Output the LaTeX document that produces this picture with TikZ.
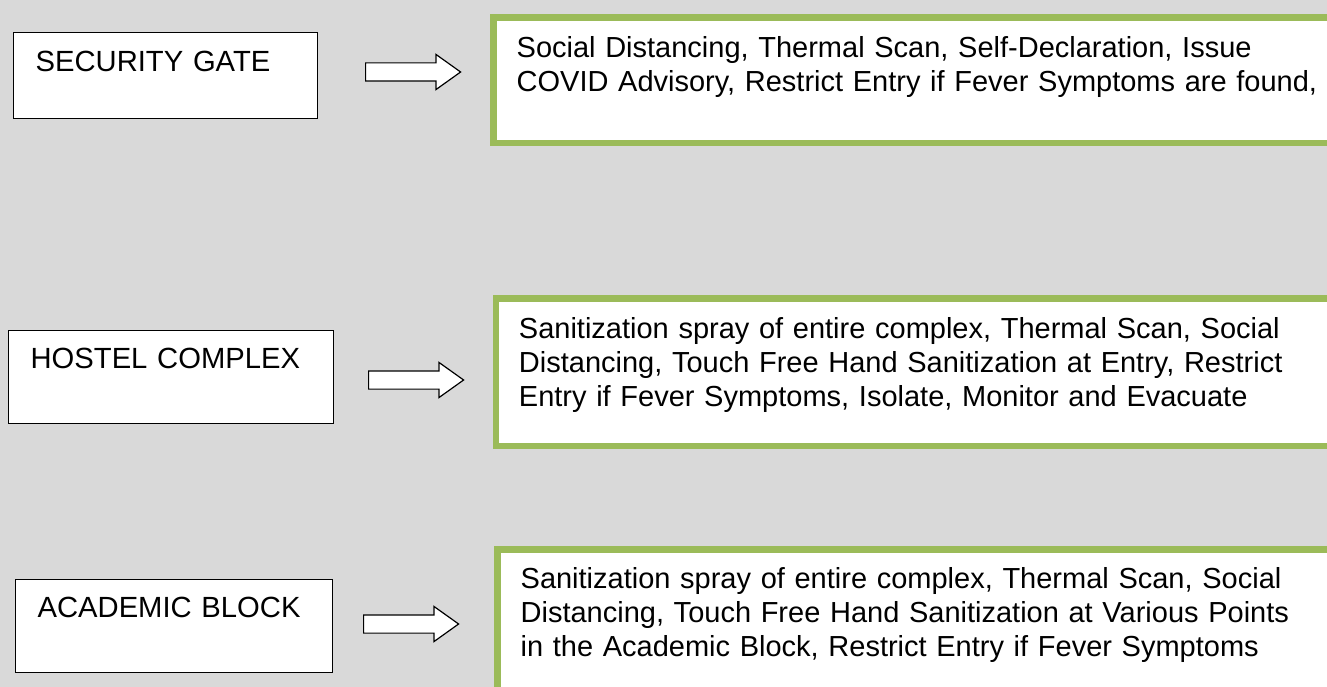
\documentclass[tikz,border=0pt]{standalone}
\usepackage{fontspec}
\setmainfont{Liberation Sans}
\usetikzlibrary{shapes.arrows,positioning}

\definecolor{boxgreen}{HTML}{9BBB59}
\definecolor{pagegray}{HTML}{D9D9D9}

\begin{document}
\begin{tikzpicture}[x=1pt,y=-1pt,
        placebox/.style={
        draw=black,
        fill=white,
        line width=1.3pt,
        anchor=north west,
        inner xsep=22pt,
        inner ysep=0pt,
        align=left,
        text height=38pt,
        text depth=55pt,
        font=\fontsize{29.2}{34}\selectfont},
    actionbox/.style={
        draw=boxgreen,
        fill=white,
        line width=6.7pt,
        anchor=north west,
        inner xsep=23pt,
        inner ysep=0pt,
        text width=810pt,
        align=left,
        text height=40pt,
        font=\fontsize{29}{34}\selectfont},
    blockarrow/.style={
        single arrow,
        draw=black,
        fill=white,
        line width=1.2pt,
        anchor=tail,
        inner xsep=0pt,
        inner ysep=8.5pt,
        minimum height=95pt,
        single arrow head extend=8.5pt,
        single arrow tip angle=71}
    ]
    \fill[pagegray] (0,0) rectangle (1327,687);
    \useasboundingbox (0,0) rectangle (1327,687);
    \clip (0,0) rectangle (1327,687);

    % places on the left
    \node[placebox,text width=260pt,text height=39pt,text depth=47pt] (gate) at (13,32) {SECURITY GATE};
    \node[placebox,text width=281pt] (hostel) at (8,330) {HOSTEL COMPLEX};
    \node[placebox,text width=273pt] (academic) at (15,579) {ACADEMIC BLOCK};

    % measures on the right
    \node[actionbox,text depth=85.7pt] (gatemeasures) at (490.3,14)
        {Social Distancing, Thermal Scan, Self-Declaration, Issue\\
         COVID Advisory, Restrict Entry if Fever Symptoms are found,};
    \node[actionbox,text depth=107.7pt] (hostelmeasures) at (492.6,295)
        {Sanitization spray of entire complex, Thermal Scan, Social\\
         Distancing, Touch Free Hand Sanitization at Entry, Restrict\\
         Entry if Fever Symptoms, Isolate, Monitor and Evacuate};
    \node[actionbox,text height=38.7pt,text depth=170pt] (academicmeasures) at (494.3,546.3)
        {Sanitization spray of entire complex, Thermal Scan, Social\\
         Distancing, Touch Free Hand Sanitization at Various Points\\
         in the Academic Block, Restrict Entry if Fever Symptoms};

    % hollow block arrows
    \node[blockarrow] (gatearrow) at (365,72) {};
    \node[blockarrow] (hostelarrow) at (368,380) {};
    \node[blockarrow] (academicarrow) at (363,624) {};
\end{tikzpicture}
\end{document}
